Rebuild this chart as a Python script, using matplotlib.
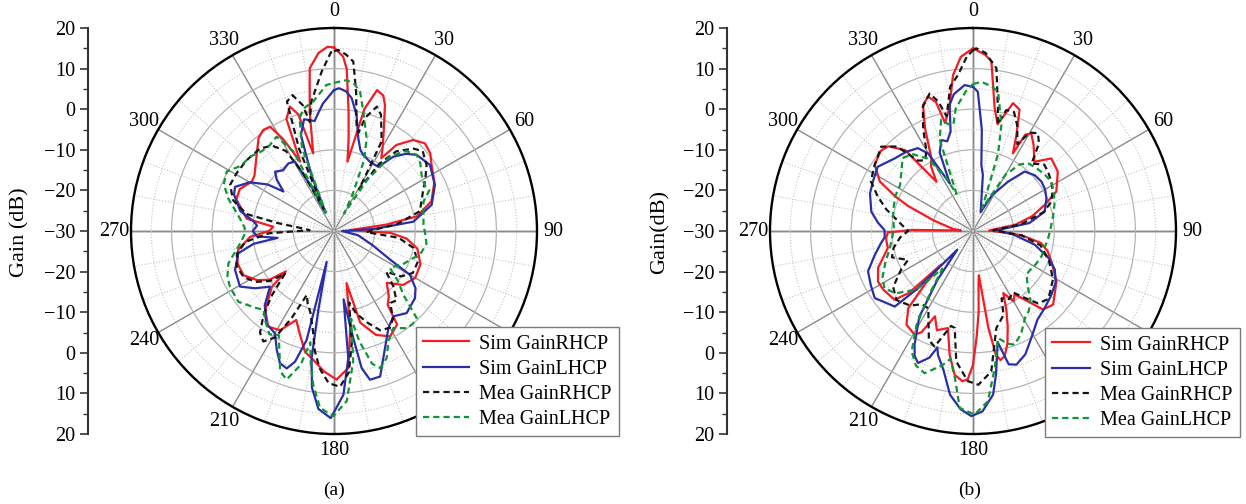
import numpy as np
import matplotlib
matplotlib.use('Agg')
import matplotlib.pyplot as plt

plt.rcParams['font.family'] = ['Liberation Serif', 'DejaVu Serif']

# ---- panel (a) ----
a_sim_rhcp_deg = [0, 3, 4.5, 7, 9, 11, 14, 17, 20, 22,
                  26, 30, 33, 36, 41, 46, 51, 56, 64, 73,
                  80, 83, 87, 92, 96, 102, 111, 120, 128, 134.5,
                  140, 144, 146, 152, 158, 164, 166.5, 170.5, 174, 179,
                  184, 189, 193.5, 198, 203, 208.5, 214.5, 221, 228, 230,
                  233, 237.5, 244, 251.5, 259, 266, 270, 274, 278, 288,
                  294, 301, 305, 316, 321, 325, 328.5, 331, 334, 337,
                  340.5, 343, 345, 348.5, 351.5, 355, 358]
a_sim_rhcp_db = [15.2, 13, 10, -0.5, -7, -12.6, 1, 6.3, 5.5, 3.5,
                 -2, -6, -8.6, -3.8, -0.3, 1.1, 0.5, -1, -2.5, -4.9,
                 -9.3, -17, -26, -16, -12, -9, -7.2, -6.9, -8.4, -11.8,
                 -9, -7.5, -2.2, -0.6, -2.4, -6.5, -16.8, -5.8, 3.9, 6.6,
                 4.7, 2.2, 0.6, -3, -6.2, -2.2, -1.4, -4.2, -9.4, -14.5,
                 -10, -7.5, -5.2, -4.9, -6, -9.3, -14, -15, -8.3, -4.7,
                 -4.6, -6.4, -6.1, -2.7, -0.5, 0.4, 0.1, -4, -11, 0,
                 2.5, 0, -10.2, 0, 10.5, 14, 15.4]

a_sim_lhcp_deg = [0, 2, 5, 7.6, 11, 14.7, 18, 21, 27.4, 34.6,
                  38.6, 43, 47.4, 55.5, 65.5, 75, 83.3, 87, 90, 100,
                  110, 117, 120, 125, 129.6, 138.5, 145.2, 150.7, 156.4, 162.4,
                  166.4, 168.6, 169.8, 172, 173.6, 176.7, 181, 185, 188, 190,
                  191.2, 193.4, 194.1, 196.6, 199, 202.2, 205.7, 210, 216.4, 223,
                  229, 234, 239.4, 248.5, 256.9, 261, 263, 266, 270, 274,
                  277, 282, 290, 294, 300, 305, 308, 312, 315.2, 320,
                  326, 330.6, 333, 335, 338, 341, 345, 350, 352, 355]
a_sim_lhcp_db = [4.7, 5.2, 4.5, 3, -0.9, -6.4, -9, -9.9, -10.8, -10.8,
                 -6.6, -4, -2.3, -1.3, -2.7, -5.1, -10.3, -20, -28, -24,
                 -20, -14.5, -8.4, -5.5, -4.1, -3, -4.4, -2.6, 1.4, 7.6,
                 7.7, 4.4, -3.2, -13, 1.5, 10.4, 16.1, 14, 9, 1.8,
                 -9.9, -22.2, -2.3, 3.6, 5.8, 5.2, 2.5, -0.9, -1.8, -5,
                 -9.1, -6, -3.1, -3.8, -5.8, -10, -16, -11, -10, -11,
                 -10, -6.4, -3.8, -3.3, -6, -10, -14.2, -11, -9.4, -10.5,
                 -9.9, -10.4, -18, -25, -15, -5, -1.5, -2.5, -1, 1.5]

a_mea_rhcp_deg = [0, 1.4, 4, 6.5, 9, 12, 14, 15.5, 19, 22,
                  28, 31, 34, 38, 44, 48, 54.5, 60, 66, 77,
                  84, 88, 92, 96, 102, 110, 118, 124, 128, 133,
                  138, 142, 146, 150, 155, 160, 165, 168, 171, 174,
                  177.8, 182, 186, 189, 192, 196, 200, 203, 206, 209,
                  212.6, 216, 220, 224, 227, 229, 232, 237, 243, 250,
                  257, 263, 268, 272, 275, 278, 281, 287, 294, 300.6,
                  309, 318, 324, 329, 332, 334.5, 337, 340, 343, 346,
                  347.5, 350, 355.6, 359]
a_mea_rhcp_db = [14.3, 14.6, 13.5, 12, 4.8, -3.3, -5, -1, 2.4, 0.9,
                 -5, -18, -10, -5.1, -1.8, -0.6, -2, -4, -6, -8.3,
                 -14.5, -20, -22, -14, -10, -8, -8, -10, -13.7, -10,
                 -7, -7.5, -4, -2.5, -3, -6, -9, -12, -2, 5,
                 8.4, 7.5, 4, 0, -5, -9, -11, -12.9, -6, 0,
                 2.3, 1, -3, -8, -12, -14, -10, -7, -5, -4.5,
                 -5.5, -8, -14, -24, -22, -16, -8, -4, -2, -2.1,
                 -2.3, -2.7, -4, -7, -14, -24, -8, 3.9, 5, 2,
                 -2.5, 2.3, 9.4, 14]

a_mea_lhcp_deg = [0, 4.8, 8, 10.6, 13.8, 19.4, 23, 27, 30, 33,
                  37, 42, 47.4, 52, 57.4, 63, 67, 71.8, 78, 86,
                  92, 98, 105, 115, 123.5, 128, 132.6, 136.5, 140, 143.2,
                  148.5, 153.8, 157.5, 161.4, 164, 167, 169, 171.6, 175.7, 180.2,
                  184.5, 187.7, 190, 192, 194, 197.7, 201, 204, 208, 212,
                  217, 222, 225, 233.5, 241.8, 247, 253, 262.5, 268, 272,
                  277.7, 287, 293, 299, 305, 311.5, 318, 323, 328.7, 333,
                  336, 339, 343, 346, 350.9, 357]
a_mea_lhcp_db = [6.5, 7.3, 6.5, 4.9, 0.3, -5.8, -11, -20, -25, -15,
                 -7, -3.5, -2.3, -3, -4.4, -5, -4.5, -6.8, -7.5, -7.9,
                 -7.5, -7, -8, -11, -13.5, -10, -6.8, -0.4, 0, -0.1,
                 -2, 0.3, 3.9, 5.6, 4, -2, -8, 2.4, 12, 15.6,
                 13.7, 8.2, 3, -2, 4, 8.4, 7, 3, -1, 0,
                 -2, -4, -3.1, -0.7, -0.9, -1.5, -2.8, -6.7, -8, -8,
                 -6.6, -2.8, -0.5, 0.2, -2, -2.4, -3.5, -3.6, -2.8, -8,
                 -25, -8, -1, 1.1, 2.3, 6]

# ---- panel (b) ----
b_sim_rhcp_deg = [0, 4, 6.2, 10, 13, 17.4, 21, 24.3, 27.2, 28.5,
                  30.8, 35, 41.6, 47.2, 55, 64.7, 70, 76, 81.8, 88,
                  95, 100, 105, 111.2, 121, 132.6, 138.3, 142, 146.8, 150,
                  154, 157, 160, 163, 165.8, 168, 169.5, 171, 172.5, 174,
                  176, 178, 180, 182, 184, 187.3, 190.7, 194.5, 200, 204,
                  207, 209.4, 215.4, 220, 222, 223.5, 226, 228.8, 236.9, 242,
                  248.7, 258.7, 265, 269, 271, 272.5, 276, 285, 291, 294,
                  298, 304, 311, 315, 320, 323.4, 327, 330.2, 335, 338.4,
                  341.5, 344, 345.5, 349, 352.7, 356]
b_sim_rhcp_db = [15, 13.5, 12, 0.7, -3, 3, 2, -4, -8.5, -3,
                 -2, -4, -7.2, -3.7, -4.5, -7.3, -11.2, -15, -19.6, -26,
                 -18, -13, -11, -9.3, -6, -3.2, -4.1, -8, -11.3, -10,
                 -13, -9, -5, -1, 1.8, 2.5, 1, -5.8, -19, -17,
                 -10, -4, 3, 6.5, 7.1, 5.7, 1, -5.3, -4, -7,
                 -2, -0.7, -1.7, -5.2, -12.2, -18.6, -8, -4.3, -3.6, -3.5,
                 -4.9, -8.6, -8.5, -9, -15, -27, -25, -20, -13, -9,
                 -4, -0.8, 0.1, -0.5, -4, -14.9, -11, -9.4, -2, 3.4,
                 4.9, 3, -2.5, 0.75, 8.7, 13]

b_sim_lhcp_deg = [0, 2, 5, 7.2, 10, 15, 22, 28, 35.4, 41,
                  48, 54.2, 60, 66, 74.9, 82, 88, 95, 102.5, 110,
                  115.3, 122, 130, 137, 144, 151.4, 157, 162, 165, 167.5,
                  169, 171, 173, 177, 180.5, 184, 188, 192, 195.8, 197,
                  199, 202.6, 205, 207.2, 212, 216, 220, 224, 226, 235.7,
                  242, 249, 256, 262, 266, 270.6, 275, 280.8, 290, 296.3,
                  304, 312.8, 320, 326.4, 330, 334, 337, 340.8, 344, 347.3,
                  349.5, 352, 356.7]
b_sim_lhcp_db = [5.5, 4.3, -5, -13.6, -16, -22, -25, -20, -15.1, -10.6,
                 -9.5, -9.2, -9.5, -10.2, -11.7, -16, -24, -20, -14.4, -10,
                 -7.7, -6, -5, -4.1, -3, 0, 3, 4.6, 4, -2,
                 1.1, 6, 10.6, 14.5, 15.6, 14, 10.7, 5, 1.7, 0,
                 3, 5.2, 4, 1.5, -5, -15, -24, -10, -3.2, -0.7,
                 -1.5, -2.3, -5, -7, -8.2, -8.2, -6.5, -4.5, -3, -2.5,
                 -1.7, -3.7, -4.5, -5.5, -8, -17, -9, -6.3, -7, -4.9,
                 1.6, 4, 6]

b_mea_rhcp_deg = [0, 1, 4, 8.2, 11.5, 13, 15.4, 19, 23, 27,
                  30, 33.6, 37, 41, 47, 52, 57.8, 63, 69.5, 75,
                  82, 88, 95, 102, 111, 121, 132, 138, 142, 147,
                  152, 157, 160, 166.5, 172.6, 178, 182, 187.3, 190.7, 193,
                  198.4, 202, 206, 210, 215, 220, 228, 235, 242, 246,
                  252, 258, 265, 270, 276, 284, 290, 296, 304, 312.6,
                  318, 322, 326, 330, 334, 338, 342.5, 345, 347, 349,
                  351, 354.5, 358]
b_mea_rhcp_db = [14.5, 15, 14, 10.5, 0.8, -3, 0.9, 1, -2, -6,
                 -2, -1.1, -3, -8, -6, -6.5, -7.2, -8, -9.4, -12,
                 -18, -25, -18, -13, -10, -7, -5, -6, -9, -12,
                 -11, -12, -8, -5.4, 4.9, 7.9, 7, 2.4, -5.7, -6,
                 0, -1, -5, -8, -8, -6, -4.6, -6, -10, -12.5,
                 -9, -10, -12, -14, -12, -8, -5, -2, -0.8, 0.7,
                 -2, -8, -9, -7, -2, 3, 5.5, 3, -1, 2,
                 6, 8.6, 13]

b_mea_lhcp_deg = [0, 3.2, 7, 10.2, 15, 18, 22, 30, 35, 39,
                  45, 52, 58, 65, 72, 80, 90, 97, 103, 110,
                  118, 125, 129, 135, 140, 145, 149, 155, 160, 163,
                  166.8, 171, 175, 179.5, 184.3, 187, 190, 193, 198.8, 203,
                  207, 211, 215, 219, 224, 231, 237, 243, 250, 258,
                  265, 272, 280, 288, 295, 302, 310, 316, 322, 328,
                  333, 336, 340, 344, 347, 349.5, 352, 357]
b_mea_lhcp_db = [6.2, 6.8, 6, 4.9, -3, -10, -24, -14, -10, -8.5,
                 -8, -7.5, -7.2, -8, -8.9, -10, -11, -11.5, -11.9, -12,
                 -12.5, -13, -13, -11, -8, -6, -5.1, -2, -0.2, -1,
                 -2.9, 4.2, 12.1, 15.2, 13.7, 6.5, 2, 4, 7, 6,
                 3.3, -3, -12, -18, -10, -5.6, -4, -5, -7, -9,
                 -10, -10.5, -10, -9.5, -9, -8.8, -7, -5, -6, -9,
                 -15, -20, -6, -1.5, -3, -3.4, 0.5, 4.4]

labels = ['Sim GainRHCP', 'Sim GainLHCP', 'Mea GainRHCP', 'Mea GainLHCP']
colors = ['#f21c24', '#2b2fa6', '#161616', '#119438']
styles = ['-', '-', (0, (2.8, 1.8)), (0, (2.8, 1.8))]
angle_labels = ['0', '30', '60', '90', '120', '150', '180', '210', '240', '270', '300', '330']
scale_ticks = [20, 10, 0, -10, -20, -30, -20, -10, 0, 10, 20]

W, H = 1246, 504
fig = plt.figure(figsize=(W / 100, H / 100), dpi=100)


def closed(deg, db):
    t = np.deg2rad(np.append(deg, deg[0] + 360))
    r = np.append(db, db[0])
    return t, r


def polar_panel(cx, series, legend_xy, handle_len):
    R = 203
    ax = fig.add_axes([(cx - R) / W, (H - 231 - R) / H, 2 * R / W, 2 * R / H],
                      projection='polar')
    ax.set_theta_zero_location('N')
    ax.set_theta_direction(-1)
    ax.set_ylim(-30, 20)
    ax.set_yticks([-20, -10, 0, 10])
    ax.set_yticklabels([])
    ax.set_yticks([-25, -15, -5, 5, 15], minor=True)
    ax.yaxis.grid(True, which='major', color='#b4b4b4', lw=0.9, ls='-')
    ax.yaxis.grid(True, which='minor', color='#c4c4c4', lw=0.8, ls=':')
    ax.tick_params(axis='y', which='both', length=0)

    ax.set_xticks(np.deg2rad(np.arange(0, 360, 30)))
    ax.set_xticklabels(angle_labels, fontsize=14.5)
    minor = [d for d in range(0, 360, 10) if d % 30 != 0]
    ax.set_xticks(np.deg2rad(minor), minor=True)
    ax.xaxis.grid(True, which='major', color='#8a8a8a', lw=1.0, ls='-')
    ax.xaxis.grid(True, which='minor', color='#c4c4c4', lw=0.8, ls=':')
    ax.tick_params(axis='x', which='major', length=6, width=1.1, pad=-1, color='black')
    ax.tick_params(axis='x', which='minor', length=3.5, width=1.0, color='black')
    ax.spines['polar'].set_linewidth(1.7)

    for d in [0, 90, 180, 270]:
        ax.plot([np.deg2rad(d)] * 2, [-30, 20], color='#4a4a4a', lw=1.0, zorder=1)

    for (deg, db), lab, c, ls in zip(series, labels, colors, styles):
        t, r = closed(deg, db)
        ax.plot(t, r, color=c, ls=ls, lw=1.6, label=lab, zorder=3)

    # the 120 and 150 labels sit under the legend in the reference
    for lbl in ax.get_xticklabels():
        if lbl.get_text() in ('120', '150'):
            lbl.set_visible(False)

    leg = ax.legend(loc='lower left', bbox_to_anchor=legend_xy,
                    bbox_transform=fig.transFigure, fontsize=14.5,
                    frameon=True, fancybox=False, framealpha=1,
                    edgecolor='#7a7a7a', handlelength=handle_len, handletextpad=0.5,
                    borderpad=0.35, labelspacing=0.3, borderaxespad=0)
    leg.get_frame().set_linewidth(1.0)
    leg.set_zorder(10)
    return ax


def scale_axis(x_px, ylabel, ylabel_x):
    sa = fig.add_axes([x_px / W, (H - 231 - 203) / H, 0.0005, 406 / H])
    sa.set_ylim(-50, 50)
    sa.set_yticks(np.arange(50, -51, -10))
    sa.set_yticklabels([f'{v}'.replace('-', '\u2212') for v in scale_ticks], fontsize=14.5)
    sa.set_yticks(np.arange(-45, 50, 10), minor=True)
    sa.tick_params(axis='y', which='major', length=6, width=1.2, pad=3, color='#333333')
    sa.tick_params(axis='y', which='minor', length=3.5, width=1.0, color='#333333')
    sa.set_xticks([])
    for s in ['top', 'right', 'bottom']:
        sa.spines[s].set_visible(False)
    sa.spines['left'].set_linewidth(1.5)
    sa.spines['left'].set_color('#333333')
    fig.text(ylabel_x / W, 1 - 232 / H, ylabel, rotation=90, ha='center',
             va='center', fontsize=16)


series_a = [(a_sim_rhcp_deg, a_sim_rhcp_db), (a_sim_lhcp_deg, a_sim_lhcp_db),
            (a_mea_rhcp_deg, a_mea_rhcp_db), (a_mea_lhcp_deg, a_mea_lhcp_db)]
series_b = [(b_sim_rhcp_deg, b_sim_rhcp_db), (b_sim_lhcp_deg, b_sim_lhcp_db),
            (b_mea_rhcp_deg, b_mea_rhcp_db), (b_mea_lhcp_deg, b_mea_lhcp_db)]

polar_panel(334, series_a, (416 / W, (H - 436) / H), 2.3)
polar_panel(973, series_b, (1045 / W, (H - 437) / H), 1.9)
scale_axis(88, 'Gain (dB)', 20)
scale_axis(727, 'Gain(dB)', 660)

fig.text(334 / W, 1 - 490 / H, '(a)', ha='center', va='center', fontsize=14)
fig.text(970 / W, 1 - 490 / H, '(b)', ha='center', va='center', fontsize=14)

fig.savefig('out.png', dpi=100)
